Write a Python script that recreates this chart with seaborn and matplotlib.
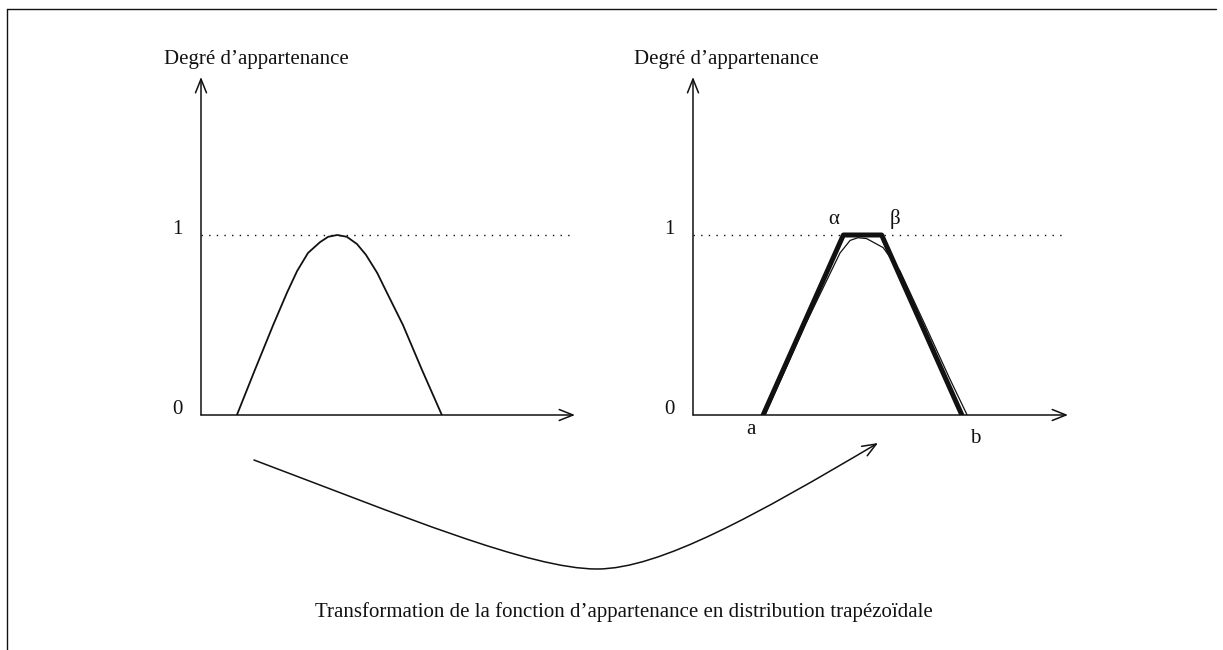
import matplotlib
matplotlib.use("Agg")
import matplotlib.pyplot as plt
import seaborn as sns
from matplotlib.path import Path
from matplotlib.patches import FancyArrowPatch

# ---------------------------------------------------------------------------
# Data (abscissa in axis units 0..10, membership degree 0..1)
# ---------------------------------------------------------------------------
left_x = [0.96, 1.44, 1.93, 2.30, 2.57, 2.86, 3.18, 3.40, 3.64,
          3.90, 4.17, 4.41, 4.71, 4.97, 5.40, 5.91, 6.44]
left_mu = [0.0, 0.25, 0.50, 0.68, 0.80, 0.90, 0.96, 0.99, 1.0,
           0.99, 0.95, 0.89, 0.79, 0.68, 0.50, 0.25, 0.0]

trap_x = [1.87, 4.01, 5.03, 7.17]          # a, alpha, beta, b
trap_mu = [0.0, 1.0, 1.0, 0.0]
trap_labels = ["a", "\u03b1", "\u03b2", "b"]

thin_x = [1.92, 2.99, 3.92, 4.19, 4.40, 4.63, 5.07, 5.52, 6.19, 6.85, 7.31]
thin_mu = [0.0, 0.50, 0.90, 0.97, 0.985, 0.98, 0.93, 0.80, 0.50, 0.20, 0.0]

y_ticks = [0, 1]
y_label = "Degr\u00e9 d\u2019appartenance"
caption = "Transformation de la fonction d\u2019appartenance en distribution trap\u00e9zo\u00efdale"

# curved arrow between the panels (pixel frame of the page)
arrow_pts = [(254, 460), (400, 515), (530, 569), (597, 569),
             (660, 569), (758, 514), (878, 443)]

W, H = 1223, 650
INK = "#111111"
TXT = 15

sns.set_theme(style="white")
plt.rcParams["font.family"] = ["Liberation Serif", "DejaVu Serif"]

fig = plt.figure(figsize=(W / 100, H / 100), dpi=100)
fig.patch.set_facecolor("white")

# page frame axes, pixel coordinates
base = fig.add_axes([0, 0, 1, 1])
base.set_xlim(0, W)
base.set_ylim(H, 0)
base.axis("off")
base.plot([7, 7], [9, H], color=INK, lw=1.0)
base.plot([7, 1216], [9, 9], color=INK, lw=1.0)


def make_panel(x0_px, x1_px):
    """Axes whose (0,0) sits on the drawn origin and (10, 1) on the '1' line."""
    origin_y, one_y, top_y = 415, 235, 77
    unit = origin_y - one_y
    ax = fig.add_axes([x0_px / W, (H - origin_y) / H,
                       (x1_px - x0_px) / W, (origin_y - top_y) / H])
    ymax = (origin_y - top_y) / unit
    ax.set_xlim(0, 10)
    ax.set_ylim(0, ymax)
    ax.axis("off")
    ax.patch.set_alpha(0)
    aprops = dict(arrowstyle="->,head_length=0.55,head_width=0.22",
                  lw=1.1, color=INK, mutation_scale=18, shrinkA=0, shrinkB=0)
    ax.annotate("", xy=(0, ymax), xytext=(0, 0), arrowprops=aprops,
                annotation_clip=False)
    ax.annotate("", xy=(10, 0), xytext=(0, 0), arrowprops=aprops,
                annotation_clip=False)
    ax.plot([0, 9.95], [1, 1], color=INK, lw=1.0, linestyle=(0, (1, 4.5)),
            clip_on=False)
    for t in y_ticks:
        ax.text(-0.62, t + 0.03, str(t), ha="center", va="center",
                fontsize=TXT, color=INK, clip_on=False)
    return ax


# ---------------------------------------------------------------------------
# Left panel: original membership function
# ---------------------------------------------------------------------------
ax1 = make_panel(201, 575)
sns.lineplot(x=left_x, y=left_mu, ax=ax1, color=INK, lw=1.3, sort=False)
ax1.text(1.47, 1.95, y_label, ha="center", va="baseline", fontsize=TXT,
         color=INK, clip_on=False)

# ---------------------------------------------------------------------------
# Right panel: trapezoidal approximation
# ---------------------------------------------------------------------------
ax2 = make_panel(693, 1068)
sns.lineplot(x=trap_x, y=trap_mu, ax=ax2, color=INK, lw=3.6, sort=False)
sns.lineplot(x=thin_x, y=thin_mu, ax=ax2, color=INK, lw=0.9, sort=False)
ax2.text(0.9, 1.95, y_label, ha="center", va="baseline", fontsize=TXT,
         color=INK, clip_on=False)
label_off = [(-0.32, -0.08), (-0.25, 0.085), (0.36, 0.09), (0.35, -0.13)]
for xv, yv, lab, (dx, dy) in zip(trap_x, trap_mu, trap_labels, label_off):
    ax2.text(xv + dx, yv + dy, lab, ha="center", va="center",
             fontsize=TXT, color=INK, clip_on=False)

# ---------------------------------------------------------------------------
# Transformation arrow and caption
# ---------------------------------------------------------------------------
codes = [Path.MOVETO] + [Path.CURVE4] * 6
arrow = FancyArrowPatch(path=Path(arrow_pts, codes),
                        arrowstyle="->,head_length=0.55,head_width=0.22",
                        mutation_scale=18, lw=1.1, color=INK)
base.add_patch(arrow)
base.text(624, 612, caption, ha="center", va="center", fontsize=TXT, color=INK)

fig.savefig("out.png", dpi=100, facecolor="white")
